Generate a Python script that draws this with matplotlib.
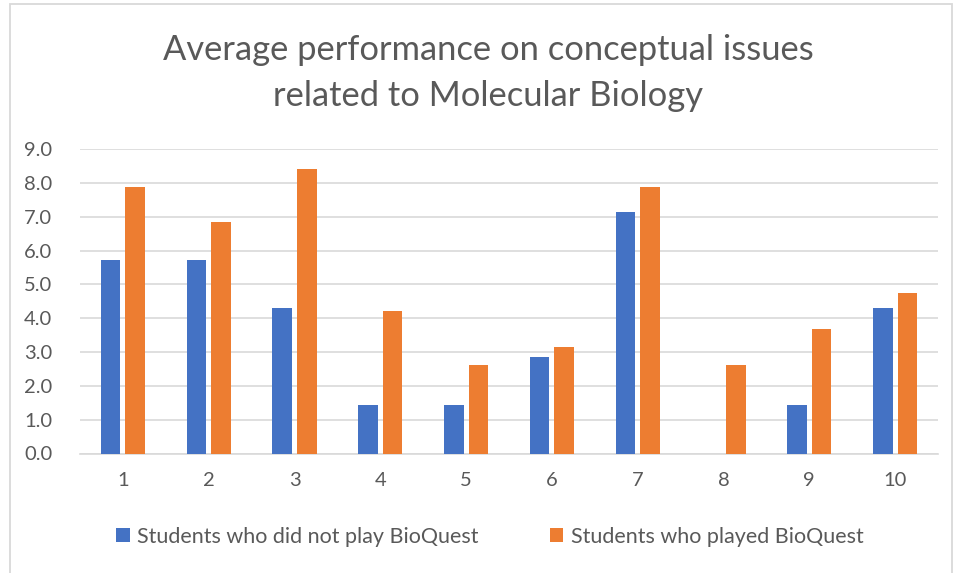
import numpy as np
import matplotlib.pyplot as plt
from matplotlib.patches import Rectangle

# Datos
questions = ['1', '2', '3', '4', '5', '6', '7', '8', '9', '10']
no_play = [5.71, 5.71, 4.29, 1.43, 1.43, 2.86, 7.14, 0.0, 1.43, 4.29]
played = [7.89, 6.84, 8.42, 4.21, 2.63, 3.16, 7.89, 2.63, 3.68, 4.74]
y_ticks = [0, 1, 2, 3, 4, 5, 6, 7, 8, 9]

blue = '#4472C4'
orange = '#ED7D31'
gray = '#595959'

plt.rcParams['font.family'] = ['Lato', 'DejaVu Sans']

fig = plt.figure(figsize=(9.55, 5.73), dpi=100)
ax = fig.add_axes([80 / 955, 1 - 453.5 / 573, 858 / 955, 304.5 / 573])

# marco del grafico
fig.patches.append(Rectangle((10 / 955, -0.05), 942 / 955, 1 - 4 / 573 + 0.05,
                             transform=fig.transFigure, fill=False,
                             edgecolor='#D9D9D9', linewidth=1.3))

x = np.arange(len(questions))
w = 0.23
ax.bar(x - 0.143, no_play, w, color=blue, label='Students who did not play BioQuest', zorder=3)
ax.bar(x + 0.143, played, w, color=orange, label='Students who played BioQuest', zorder=3)

ax.set_xlim(-0.5, len(questions) - 0.5)
ax.set_ylim(0, 9)
ax.set_yticks(y_ticks)
ax.set_yticklabels([f'{v:.1f}' for v in y_ticks])
ax.set_xticks(x)
ax.set_xticklabels(questions)
ax.grid(axis='y', color='#D9D9D9', linewidth=1.2, zorder=0)
for s in ['top', 'right', 'left']:
    ax.spines[s].set_visible(False)
ax.spines['bottom'].set_color('#D9D9D9')
ax.spines['bottom'].set_linewidth(1.2)
ax.tick_params(length=0, labelsize=14.5, labelcolor=gray)
ax.tick_params(axis='x', pad=13)
ax.tick_params(axis='y', pad=20)

fig.text(488 / 955, 1 - 73 / 573, 'Average performance on conceptual issues\nrelated to Molecular Biology',
         ha='center', va='center', fontsize=24.8, color=gray, linespacing=1.5)

fig.legend(loc='center', bbox_to_anchor=(0.513, 1 - 537 / 573), ncol=2, frameon=False,
           fontsize=15.5, labelcolor=gray, handlelength=0.62, handleheight=0.62,
           handletextpad=0.35, columnspacing=3.3)

fig.savefig('out.png', dpi=100)
